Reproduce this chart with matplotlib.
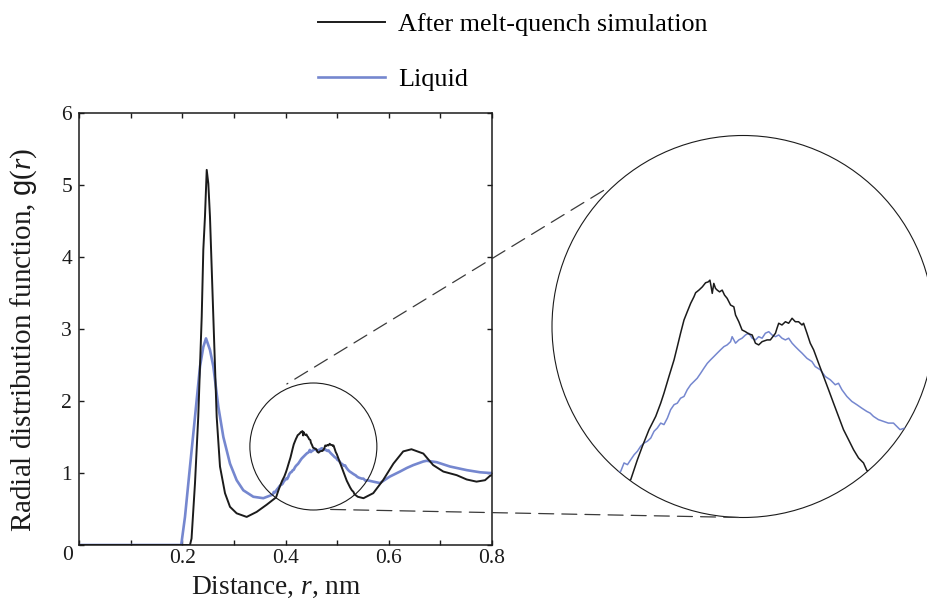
import numpy as np
import matplotlib
matplotlib.use('Agg')
import matplotlib.pyplot as plt
from matplotlib.patches import Ellipse, Circle, ConnectionPatch
from matplotlib.lines import Line2D

plt.rcParams['font.family'] = ['Liberation Serif', 'DejaVu Serif']
plt.rcParams['mathtext.fontset'] = 'custom'
plt.rcParams['mathtext.rm'] = 'Liberation Serif'
plt.rcParams['mathtext.it'] = 'Liberation Serif:italic'
plt.rcParams['mathtext.sf'] = 'Liberation Sans'

# ---------------- data ----------------
series_labels = ['After melt-quench simulation', 'Liquid']

r_quench = [0.0, 0.2, 0.215, 0.218, 0.2247, 0.231, 0.2377, 0.2408, 0.244, 0.2474,
            0.2505, 0.2537, 0.2602, 0.2667, 0.2731, 0.2828, 0.2925, 0.3054, 0.3248,
            0.3442, 0.3636,
            0.3817, 0.3860, 0.3892, 0.3935, 0.3978, 0.4010, 0.4031, 0.4063, 0.4096,
            0.4117, 0.4138, 0.4160, 0.4181, 0.4203, 0.4224, 0.4235, 0.4256, 0.4278,
            0.4299, 0.4316, 0.4327, 0.4335, 0.4342, 0.4352, 0.4363, 0.4374, 0.4389,
            0.4406, 0.4421, 0.4438, 0.4460, 0.4481, 0.4492, 0.4513, 0.4534, 0.4556,
            0.4577, 0.4599, 0.4620, 0.4641, 0.4663, 0.4695, 0.4716, 0.4749, 0.4759,
            0.4770, 0.4791, 0.4813, 0.4834, 0.4856, 0.4877, 0.4898, 0.4920, 0.4930,
            0.4952, 0.4973, 0.4995, 0.5027, 0.5059, 0.5091, 0.5123, 0.5155, 0.5187,
            0.5220, 0.5252, 0.5284, 0.5316, 0.5337,
            0.540, 0.551, 0.570, 0.589, 0.609, 0.628,
            0.644, 0.667, 0.686, 0.7057, 0.7316, 0.751, 0.770, 0.7865, 0.796, 0.8]
g_quench = [0.0, 0.0, 0.0, 0.09, 0.86, 1.78, 3.17, 4.10, 4.56, 5.21,
            5.02, 4.56, 3.17, 1.78, 1.09, 0.72, 0.53, 0.44, 0.39,
            0.46, 0.56,
            0.661, 0.753, 0.815, 0.892, 0.953, 1.014, 1.060, 1.137, 1.214,
            1.275, 1.337, 1.398, 1.436, 1.475, 1.505, 1.524, 1.536, 1.551,
            1.570, 1.574, 1.582, 1.551, 1.521, 1.567, 1.544, 1.536, 1.528,
            1.536, 1.513, 1.498, 1.467, 1.459, 1.421, 1.390, 1.352, 1.344,
            1.334, 1.329, 1.291, 1.283, 1.298, 1.306, 1.306, 1.337, 1.360,
            1.383, 1.375, 1.390, 1.383, 1.406, 1.390, 1.390, 1.375, 1.383,
            1.337, 1.291, 1.260, 1.198, 1.137, 1.076, 1.014, 0.953, 0.892,
            0.845, 0.799, 0.761, 0.738, 0.704,
            0.67, 0.65, 0.72, 0.90, 1.13, 1.30,
            1.33, 1.27, 1.11, 1.02, 0.97, 0.91, 0.88, 0.90, 0.96, 0.97]

r_liquid = [0.0, 0.198, 0.2053, 0.215, 0.2247, 0.2344, 0.2408, 0.246, 0.2537, 0.2602,
            0.2699, 0.2796, 0.2925, 0.3054, 0.3183, 0.3377, 0.357,
            0.3753, 0.3774, 0.3796, 0.3817, 0.3839, 0.3860, 0.3881, 0.3903, 0.3924,
            0.3946, 0.3967, 0.3988, 0.4010, 0.4031, 0.4053, 0.4074, 0.4096, 0.4117,
            0.4138, 0.4160, 0.4181, 0.4203, 0.4224, 0.4245, 0.4267, 0.4288, 0.4310,
            0.4331, 0.4352, 0.4374, 0.4395, 0.4417, 0.4438, 0.4460, 0.4470, 0.4492,
            0.4513, 0.4534, 0.4556, 0.4577, 0.4599, 0.4620, 0.4641, 0.4663, 0.4684,
            0.4706, 0.4727, 0.4749, 0.4770, 0.4791, 0.4813, 0.4834, 0.4856, 0.4877,
            0.4898, 0.4920, 0.4952, 0.4984, 0.5005, 0.5038, 0.5070, 0.5102, 0.5134,
            0.5155, 0.5177, 0.5209, 0.5241, 0.5273, 0.5305, 0.5337, 0.5359, 0.5380,
            0.5412, 0.5444, 0.5476, 0.5509, 0.5530, 0.5551, 0.5583,
            0.570, 0.583, 0.602, 0.6218, 0.635, 0.6476, 0.667, 0.6735, 0.693, 0.7186,
            0.751, 0.7768, 0.796, 0.8]
g_liquid = [0.0, 0.0, 0.39, 1.09, 1.78, 2.48, 2.75, 2.87, 2.71, 2.48,
            1.92, 1.50, 1.13, 0.90, 0.76, 0.67, 0.65,
            0.700, 0.738, 0.730, 0.753, 0.776, 0.792, 0.815, 0.830, 0.838,
            0.853, 0.884, 0.899, 0.922, 0.915, 0.945, 0.984, 1.007, 1.014,
            1.037, 1.045, 1.076, 1.099, 1.114, 1.129, 1.152, 1.175, 1.198,
            1.214, 1.229, 1.245, 1.260, 1.275, 1.283, 1.298, 1.321, 1.291,
            1.306, 1.314, 1.329, 1.337, 1.314, 1.306, 1.321, 1.314, 1.337,
            1.344, 1.329, 1.321, 1.329, 1.314, 1.306, 1.314, 1.291, 1.275,
            1.260, 1.245, 1.221, 1.206, 1.183, 1.168, 1.137, 1.122, 1.099,
            1.106, 1.076, 1.045, 1.022, 1.007, 0.991, 0.976, 0.968, 0.953,
            0.938, 0.930, 0.922, 0.922, 0.907, 0.892, 0.899,
            0.88, 0.86, 0.95, 1.02, 1.07, 1.11, 1.16, 1.17, 1.15, 1.09,
            1.04, 1.01, 1.0, 1.0]

x_ticks = [0.0, 0.1, 0.2, 0.3, 0.4, 0.5, 0.6, 0.7, 0.8]
x_ticklabels = ['', '', '0.2', '', '0.4', '', '0.6', '', '0.8']
y_ticks = [0, 1, 2, 3, 4, 5, 6]
y_ticklabels = ['', '1', '2', '3', '4', '5', '6']

zoom_center = (0.454, 1.368)   # centre of magnified region (r, g)
zoom_halfwidth = 0.123         # half-width of magnified region in r

# ---------------- style ----------------
BLACK = '#1b1b1b'
BLUE = '#7587cf'
W, H = 927, 606

fig = plt.figure(figsize=(W / 100, H / 100), dpi=100)
ax = fig.add_axes([79 / W, 1 - 545 / H, 413 / W, 432 / H])

ax.plot(r_liquid, g_liquid, color=BLUE, lw=1.9, zorder=2)
ax.plot(r_quench, g_quench, color=BLACK, lw=1.4, zorder=3)
ax.set_xlim(0, 0.8)
ax.set_ylim(0, 6)
ax.set_xticks(x_ticks)
ax.set_xticklabels(x_ticklabels)
ax.set_yticks(y_ticks)
ax.set_yticklabels(y_ticklabels)
ax.tick_params(direction='in', length=3.6, width=1.0, top=True, right=True,
               labelsize=15.5, colors=BLACK)
ax.tick_params(axis='y', pad=5)
ax.tick_params(axis='x', pad=3)
for s in ax.spines.values():
    s.set_linewidth(1.1)
    s.set_color(BLACK)

ax.annotate('0', xy=(0, 0), xycoords='axes fraction', xytext=(-8.3, -7.2),
            textcoords='offset points', ha='center', va='center', fontsize=15.5,
            color=BLACK)

ax.set_xlabel('Distance, $r$, nm', fontsize=19.7, color=BLACK)
ax.xaxis.set_label_coords(0.477, -0.068)
ax.set_ylabel('Radial distribution function, $\\mathsf{g}$($r$)', fontsize=21,
              color=BLACK)
ax.yaxis.set_label_coords(-0.097, 0.475)

# legend
handles = [Line2D([], [], color=BLACK, lw=1.4), Line2D([], [], color=BLUE, lw=1.9)]
fig.legend(handles, series_labels, loc='upper left',
           bbox_to_anchor=(318 / W, 1 - 13 / H),
           frameon=False, fontsize=18.8, handlelength=2.57, handletextpad=0.5,
           labelspacing=1.2, borderpad=0, borderaxespad=0)

# ---------------- zoom circle ----------------
fig.canvas.draw()
p0 = ax.transData.transform((0, 0))
p1 = ax.transData.transform((1, 1))
px_r = p1[0] - p0[0]
px_g = p1[1] - p0[1]
hw = zoom_halfwidth
hh = hw * px_r / px_g
ax.add_patch(Ellipse(zoom_center, 2 * hw, 2 * hh, fill=False, ec=BLACK, lw=0.8,
                     zorder=4))

cx, cy, R = 743, 326.5, 191
axins = fig.add_axes([(cx - R) / W, 1 - (cy + R) / H, 2 * R / W, 2 * R / H])
axins.set_xlim(zoom_center[0] - hw, zoom_center[0] + hw)
axins.set_ylim(zoom_center[1] - hh, zoom_center[1] + hh)
axins.axis('off')
clip = Circle((0.5, 0.5), 0.5, transform=axins.transAxes)
l1, = axins.plot(r_liquid, g_liquid, color=BLUE, lw=1.1)
l2, = axins.plot(r_quench, g_quench, color=BLACK, lw=1.1)
for l in (l1, l2):
    l.set_clip_path(clip)
axins.add_patch(Circle((0.5, 0.5), 0.5, transform=axins.transAxes, fill=False,
                       ec=BLACK, lw=0.8, clip_on=False))

# connecting dashed lines (angle on circle, radial factor small, radial factor big)
for ang_s, f_s, ang_b, f_b in [(113.0, 1.07, 135.7, 1.02), (-81.4, 1.0, -91.3, 1.0)]:
    a_s, a_b = np.radians(ang_s), np.radians(ang_b)
    ptB = (zoom_center[0] + hw * f_s * np.cos(a_s), zoom_center[1] + hh * f_s * np.sin(a_s))
    ptA = (0.5 + 0.5 * f_b * np.cos(a_b), 0.5 + 0.5 * f_b * np.sin(a_b))
    con = ConnectionPatch(xyA=ptA, coordsA=axins.transAxes, xyB=ptB,
                          coordsB=ax.transData, ls=(0, (12, 6.5)), color='#3a3a3a',
                          lw=0.9)
    fig.add_artist(con)

fig.savefig('out.png', dpi=100)
